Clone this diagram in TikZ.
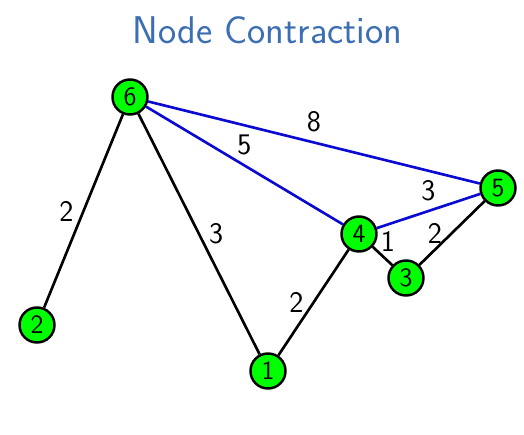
\documentclass[tikz,border=0pt]{standalone}
\usepackage{tikz}
\usetikzlibrary{calc}
\definecolor{titleblue}{RGB}{60,110,180}
\definecolor{edgeblue}{RGB}{10,10,210}

\begin{document}
\begin{tikzpicture}[font=\sffamily,
    vert/.style={circle,draw=black,fill=green,line width=1.4pt,minimum size=0.7cm,inner sep=0pt,font=\sffamily\fontsize{15}{15}\selectfont},
    wlabel/.style={black,font=\sffamily\fontsize{17}{17}\selectfont,inner sep=2pt},
    plain/.style={line width=1.5pt,black},
    contr/.style={line width=1.5pt,edgeblue}]
          \useasboundingbox (0,0) rectangle (10.48,8.68);
          \node[titleblue,font=\sffamily\fontsize{22}{22}\selectfont] (title) at (5.35,8.08){Node Contraction};

          % vertices
          \node[vert] (v6) at (2.60,6.74){6};
          \node[vert] (v2) at (0.74,2.18){2};
          \node[vert] (v1) at (5.36,1.26){1};
          \node[vert] (v4) at (7.18,4.00){4};
          \node[vert] (v3) at (8.12,3.12){3};
          \node[vert] (v5) at (9.96,4.92){5};

          % original edges
          \draw[plain] (v6) -- node[wlabel,left=3pt]{2} (v2);
          \draw[plain] (v6) -- node[wlabel,right=3pt]{3} (v1);
          \draw[plain] (v1) -- node[wlabel,left=3pt]{2} (v4);
          \draw[plain] (v4) -- node[wlabel,above right=-2pt,pos=0.35]{1} (v3);
          \draw[plain] (v3) -- node[wlabel,left=3pt]{2} (v5);

          % contracted edges
          \draw[contr] (v6) -- node[wlabel,above=3pt]{5} (v4);
          \draw[contr] (v6) -- node[wlabel,above=3pt]{8} (v5);
          \draw[contr] (v4) -- node[wlabel,above=3pt]{3} (v5);
        \end{tikzpicture}
\end{document}
